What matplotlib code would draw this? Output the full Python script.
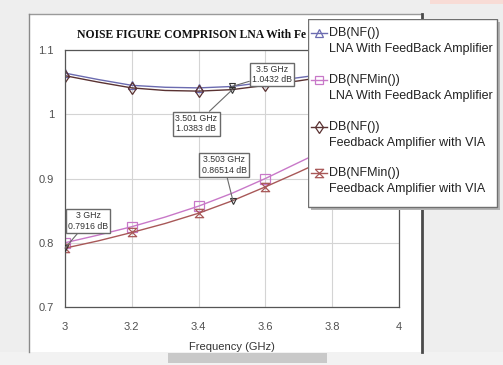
import matplotlib
matplotlib.use("Agg")
import matplotlib.pyplot as plt
from matplotlib.patches import Rectangle
from matplotlib.path import Path

# sweep data, GHz / dB
freq = [3.0, 3.1, 3.2, 3.3, 3.4, 3.5, 3.6, 3.7, 3.8, 3.9, 4.0]
nf_lna = [1.064, 1.054, 1.045, 1.042, 1.041, 1.0432, 1.050, 1.057, 1.064, 1.072, 1.080]
nfmin_lna = [0.800, 0.812, 0.825, 0.840, 0.857, 0.877, 0.900, 0.925, 0.950, 0.975, 1.000]
nf_via = [1.060, 1.050, 1.041, 1.037, 1.036, 1.0383, 1.045, 1.052, 1.060, 1.068, 1.076]
nfmin_via = [0.7916, 0.803, 0.816, 0.830, 0.846, 0.86514, 0.887, 0.910, 0.934, 0.958, 0.982]

xticks = [3, 3.2, 3.4, 3.6, 3.8, 4]
xtick_labels = ["3", "3.2", "3.4", "3.6", "3.8", "4"]
yticks = [0.7, 0.8, 0.9, 1.0, 1.1]
ytick_labels = ["0.7", "0.8", "0.9", "1", "1.1"]

# marker readouts: (freq, value, text offset in px)
markers = [
    (3.5, 1.0432, (40, 12)),
    (3.501, 1.0383, (-36, -34)),
    (3.503, 0.86514, (-9, 36)),
    (3.0, 0.7916, (23, 27)),
]

title = "NOISE FIGURE COMPRISON LNA With Fe"
legend_names = ["DB(NF())\nLNA With FeedBack Amplifier",
                "DB(NFMin())\nLNA With FeedBack Amplifier",
                "DB(NF())\nFeedback Amplifier with VIA",
                "DB(NFMin())\nFeedback Amplifier with VIA"]

hourglass = Path([(-1, 1), (1, 1), (-1, -1), (1, -1), (-1, 1)])
colors = ["#6b6bb0", "#c878c8", "#5a3232", "#a85858"]
marks = ["^", "s", "d", hourglass]
series = [nf_lna, nfmin_lna, nf_via, nfmin_via]

W, H = 503, 365
fig = plt.figure(figsize=(W / 100, H / 100), dpi=100)
fig.patch.set_facecolor("#eeeeee")

# window chrome drawn in pixel coords
bg = fig.add_axes([0, 0, 1, 1], zorder=0)
bg.set_xlim(0, W)
bg.set_ylim(H, 0)
bg.axis("off")
bg.add_patch(Rectangle((29, 14), 393, 338, fc="white", ec="none"))
bg.plot([29, 422], [14, 14], color="#9a9a9a", lw=1)
bg.plot([29, 29], [14, 352], color="#8a8a8a", lw=1)
bg.plot([422, 422], [14, 352], color="#4a4a4a", lw=2)
bg.add_patch(Rectangle((0, 352), W, 13, fc="#f2f2f2", ec="none"))
bg.add_patch(Rectangle((168, 353), 159, 10, fc="#c9c9c9", ec="none"))
bg.add_patch(Rectangle((430, 0), 73, 4, fc="#f8dcd6", ec="none"))
bg.text(77, 35, title, family="Liberation Serif", fontweight="bold", fontsize=8.4,
        va="center", ha="left", color="#111111")

ax = fig.add_axes([65 / W, (H - 307) / H, 334 / W, 257 / H], zorder=1)
ax.set_facecolor("white")
for s, c, m in zip(series, colors, marks):
    ax.plot(freq, s, color=c, lw=1, marker=m, markevery=2, ms=7 if m == "s" else 6,
            mfc="none", mec=c, mew=0.9)

for f, v, off in markers:
    ax.plot([f], [v], marker="v", ms=5, mfc="none", mec="#333333", mew=0.8, zorder=3)
    ax.annotate(f"{f:g} GHz\n{v:g} dB", xy=(f, v), xytext=off, textcoords="offset pixels",
                ha="center", va="center", fontsize=6.3, family="Liberation Sans",
                color="#333333", linespacing=1.2, annotation_clip=False,
                bbox=dict(boxstyle="square,pad=0.25", fc="white", ec="#6a6a6a", lw=1),
                arrowprops=dict(arrowstyle="-", color="#6a6a6a", lw=0.8, shrinkA=0, shrinkB=0))

ax.set_xlim(3, 4)
ax.set_ylim(0.7, 1.1)
ax.set_xticks(xticks, xtick_labels)
ax.set_yticks(yticks, ytick_labels)
ax.tick_params(length=0, labelsize=8, labelcolor="#505050")
ax.tick_params(axis="x", pad=11)
ax.tick_params(axis="y", pad=8)
for lab in ax.get_xticklabels() + ax.get_yticklabels():
    lab.set_family("Liberation Sans")
ax.set_xlabel("Frequency (GHz)", family="Liberation Sans", fontsize=8, color="#333333",
              labelpad=7)
ax.grid(color="#d4d4d4", lw=0.8)
ax.set_axisbelow(True)
for sp in ax.spines.values():
    sp.set_color("#555555")
    sp.set_linewidth(0.9)

# legend panel, pixel coords
lg = fig.add_axes([308 / W, (H - 210) / H, 192 / W, 191 / H], zorder=2)
lg.set_xlim(308, 500)
lg.set_ylim(210, 19)
lg.axis("off")
lg.add_patch(Rectangle((311, 22), 189, 188, fc="#b5b5b5", ec="none"))
lg.add_patch(Rectangle((308, 19), 189, 188, fc="white", ec="#707070", lw=1))
rows = [33, 80, 127, 173]
for y, name, c, m in zip(rows, legend_names, colors, marks):
    lg.plot([311, 327], [y, y], color=c, lw=1)
    lg.plot([319], [y], marker=m, ms=6, mfc="none", mec=c, mew=0.9)
    lg.text(329, y - 6, name, family="Liberation Sans", fontsize=9, va="top",
            ha="left", color="#222222", linespacing=1.45)

fig.savefig("out.png", dpi=100, facecolor=fig.get_facecolor())
